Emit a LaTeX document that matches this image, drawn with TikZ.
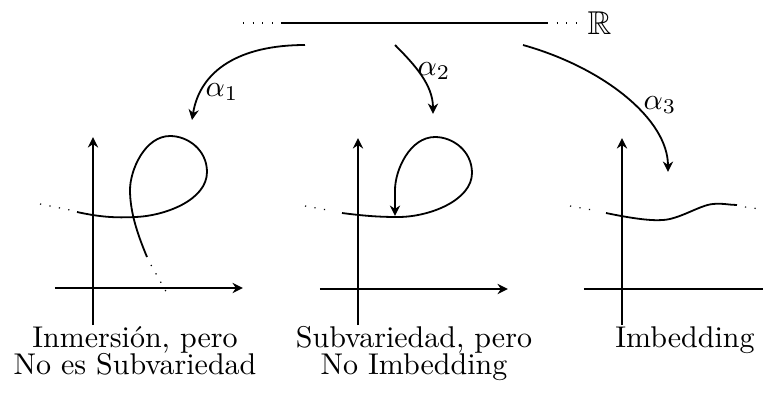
\documentclass[tikz,border=0pt]{standalone}
\usepackage{amssymb}
\usetikzlibrary{arrows.meta}
\begin{document}
\begin{tikzpicture}[x=0.3333pt,y=-0.3333pt,
  axis/.style={-{Stealth[length=3.5pt,width=3.4pt]},line width=0.6pt},
  curve/.style={line width=0.6pt},
  dots/.style={dash pattern=on 0.4pt off 2.8pt,line width=0.4pt},
  map/.style={-{Stealth[length=3.5pt,width=3.4pt]},line width=0.6pt},
  caption/.style={align=center,anchor=north,inner sep=0pt}]
  \useasboundingbox (0,0) rectangle (763,393);
  % recta real
  \coordinate (r0) at (243,23);
  \coordinate (r1) at (281,23);
  \coordinate (r2) at (547,23);
  \coordinate (r3) at (585,23);
  \draw[dots] (r0) -- (r1);
  \draw[curve] (r1) -- (r2);
  \draw[dots] (r2) -- (r3);
  \node[anchor=west,inner sep=0pt,scale=1.1] (R) at (587,23) {$\mathbb{R}$};
  % aplicaciones
  \coordinate (a1s) at (305,45);  \coordinate (a1e) at (192,120);
  \coordinate (a2s) at (395,45);  \coordinate (a2e) at (433,114);
  \coordinate (a3s) at (523,45);  \coordinate (a3e) at (668,172);
  \draw[map] (a1s) .. controls (240,45) and (200,70) .. (a1e);
  \draw[map] (a2s) .. controls (415,65) and (433,85) .. (a2e);
  \draw[map] (a3s) .. controls (605,68) and (668,120) .. (a3e);
  \node (l1) at (222,92) {$\alpha_1$};
  \node (l2) at (434,71) {$\alpha_2$};
  \node (l3) at (660,105) {$\alpha_3$};
  % inmersion
  \draw[axis] (93,325) -- (93,137);
  \draw[axis] (55,288) -- (243,288);
  \draw[dots] (40,204) -- (70,210);
  \draw[curve] (77,212) .. controls (100,217) and (115,218) .. (135,217)
    .. controls (165,216) and (207,200) .. (207,172)
    .. controls (207,150) and (188,136) .. (170,136)
    .. controls (145,136) and (130,170) .. (130,190)
    .. controls (130,215) and (140,240) .. (147,257);
  \draw[dots] (151,265) -- (168,295);
  \node[caption] (t1) at (135,326) {Inmersi\'on, pero\\[-3pt]No es Subvariedad};
  % subvariedad
  \draw[axis] (358,325) -- (358,138);
  \draw[axis] (320,289) -- (508,289);
  \draw[dots] (305,206) -- (333,211);
  \draw[curve,-{Stealth[length=3.5pt,width=3.4pt]}] (342,213)
    .. controls (365,216) and (380,217) .. (398,217)
    .. controls (430,217) and (472,200) .. (472,173)
    .. controls (472,151) and (453,137) .. (435,137)
    .. controls (410,137) and (395,170) .. (395,190)
    .. controls (395,200) and (395,208) .. (395,216);
  \node[caption] (t2) at (414,326) {Subvariedad, pero\\[-3pt]No Imbedding};
  % imbedding
  \draw[axis] (622,325) -- (622,138);
  \draw[axis] (584,289) -- (775,289);
  \draw[dots] (570,206) -- (598,211);
  \draw[curve] (606,213) .. controls (630,218) and (650,221) .. (663,220)
    .. controls (680,219) and (700,205) .. (713,204)
    .. controls (722,203) and (730,205) .. (737,205);
  \draw[dots] (745,207) -- (760,209);
  \node[caption] (t3) at (685,326) {Imbedding};
\end{tikzpicture}
\end{document}
